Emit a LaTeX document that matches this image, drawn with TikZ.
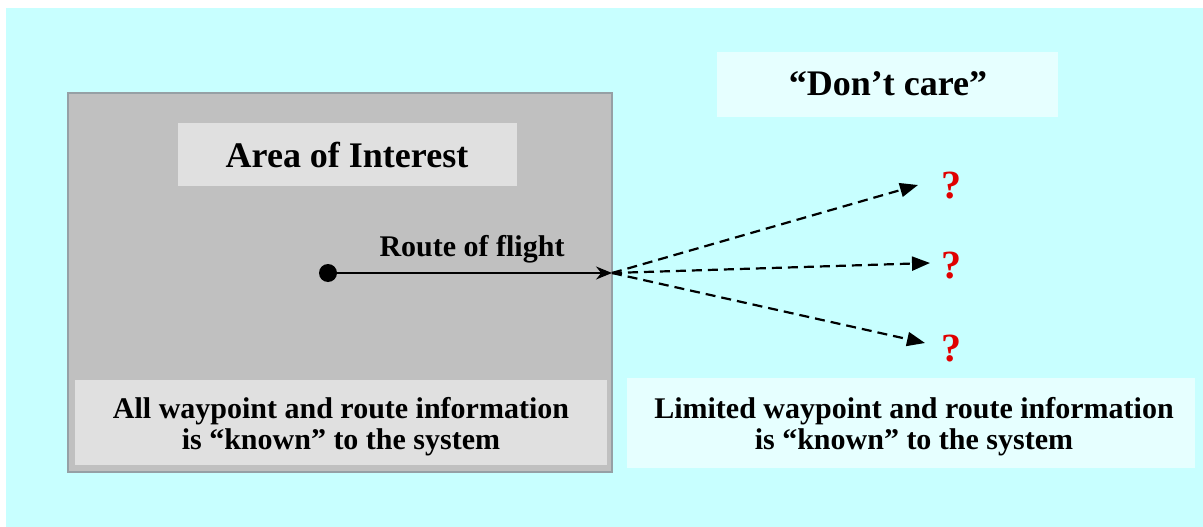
\documentclass[tikz,border=0pt]{standalone}
\usepackage{fontspec}
\setmainfont{Liberation Serif}
\usepackage{tikz}
\usetikzlibrary{arrows.meta, positioning}

\definecolor{skycyan}{HTML}{C8FFFF}
\definecolor{areagray}{HTML}{C0C0C0}
\definecolor{panelgray}{HTML}{E0E0E0}
\definecolor{palecyan}{HTML}{E6FFFF}
\definecolor{qred}{HTML}{E00000}

\begin{document}
\begin{tikzpicture}[
  x=1pt, y=-1pt,
  label/.style={font=\bfseries\fontsize{30}{31}\selectfont, align=center, inner sep=0pt},
  title/.style={font=\bfseries\fontsize{36}{38}\selectfont, inner sep=0pt},
  query/.style={font=\bfseries\fontsize{40}{42}\selectfont, text=qred, inner sep=0pt},
  solidarrow/.style={-{Stealth[length=16pt, width=13pt]}, line width=1.5pt},
  guess/.style={-{Triangle[length=18pt, width=14pt]}, line width=2.2pt, dash pattern=on 10pt off 6pt}
]
\useasboundingbox (0,0) rectangle (1203,527);

% Background
\fill[white] (0,0) rectangle (1203,527);
\fill[skycyan] (6,8) rectangle (1203,527);

% Area of interest
\draw[fill=areagray, draw=black!80!cyan!50, line width=1.2pt] (68,93) rectangle (612,472);
\fill[panelgray] (178,123) rectangle (517,186);
\node[title] (aoi) at (347,155) {Area of Interest};
\fill[panelgray] (75,380) rectangle (607,465);
\node[label] (known) at (341,427) {All waypoint and route information\\is ``known'' to the system};

% Outside
\fill[palecyan] (717,52) rectangle (1058,117);
\node[title] (dontcare) at (888,84) {``Don't care''};
\fill[palecyan] (627,378) rectangle (1195,468);
\node[label] (limited) at (914,427) {Limited waypoint and route information\\is ``known'' to the system};

% Route of flight
\fill (328,273) circle (9pt);
\coordinate (start) at (328,273);
\coordinate (edge) at (612,273);
\draw[solidarrow] (start) -- node[label, above=9pt, xshift=2pt] (route) {Route of flight} (edge);

% Possible continuations
\node[query] (q1) at (951,186) {?};
\node[query] (q2) at (951,266) {?};
\node[query] (q3) at (951,349) {?};
\draw[guess] (edge) -- (918,185);
\draw[guess] (edge) -- (930,263);
\draw[guess] (edge) -- (925,343);

\end{tikzpicture}
\end{document}
